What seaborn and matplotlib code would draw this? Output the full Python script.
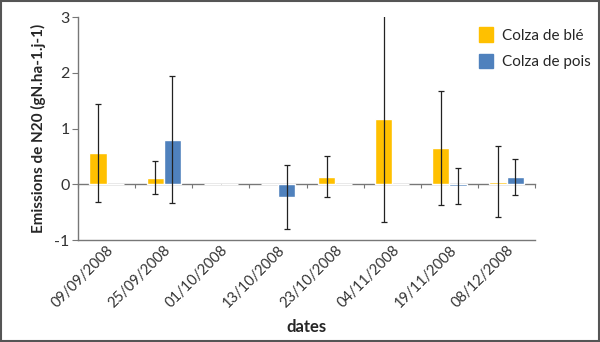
import matplotlib
matplotlib.use("Agg")
import matplotlib.pyplot as plt
import seaborn as sns
import pandas as pd
import numpy as np
from matplotlib.patches import Rectangle

dates = ["09/09/2008", "25/09/2008", "01/10/2008", "13/10/2008",
         "23/10/2008", "04/11/2008", "19/11/2008", "08/12/2008"]
series = ["Colza de blé", "Colza de pois"]
ble = [0.56, 0.12, 0.0, 0.0, 0.14, 1.18, 0.65, 0.05]
pois = [0.0, 0.80, 0.0, -0.23, 0.0, 0.0, -0.03, 0.13]
ble_err = [0.88, 0.30, 0.0, 0.0, 0.36, 1.86, 1.02, 0.64]
pois_err = [0.0, 1.14, 0.0, 0.57, 0.0, 0.0, 0.33, 0.32]
colors = ["#FFC000", "#4F81BD"]

sns.set_style("white")
plt.rcParams["font.family"] = ["Lato", "DejaVu Sans"]

df = pd.DataFrame({
    "date": dates * 2,
    "serie": [series[0]] * len(dates) + [series[1]] * len(dates),
    "val": ble + pois,
})

fig = plt.figure(figsize=(6, 3.42), dpi=100)
ax = fig.add_axes([0.13, 0.298, 0.762, 0.652])
sns.barplot(data=df, x="date", y="val", hue="serie", order=dates,
            hue_order=series, palette=colors, errorbar=None,
            width=0.6, saturation=1, ax=ax, legend=False)

for cont, vals, errs in zip(ax.containers, [ble, pois], [ble_err, pois_err]):
    xs = [p.get_x() + p.get_width() / 2 for p in cont.patches]
    mask = [e > 0 for e in errs]
    ax.errorbar(np.array(xs)[mask], np.array(vals)[mask], yerr=np.array(errs)[mask],
                fmt="none", ecolor="#222222", elinewidth=0.9, capsize=2,
                capthick=0.9, clip_on=True, zorder=3)

ax.set_ylim(-1, 3)
ax.set_xlim(-0.5, len(dates) - 0.5)
ax.set_yticks([-1, 0, 1, 2, 3])
ax.set_yticklabels(["-1", "0", "1", "2", "3"], fontsize=11.5, color="#333333")
ax.tick_params(axis="y", direction="out", length=4, width=0.8, color="#777777", left=True, pad=2)
ax.tick_params(axis="x", length=0, pad=2)
ax.set_xticks(range(len(dates)))
ax.set_xticklabels(dates, rotation=45, ha="right", rotation_mode="anchor",
                   fontsize=10.5, color="#333333")

for s in ["top", "right"]:
    ax.spines[s].set_visible(False)
for s in ["left", "bottom"]:
    ax.spines[s].set_color("#777777")
    ax.spines[s].set_linewidth(1.0)

# zero axis line with category boundary ticks
sec = ax.secondary_xaxis(0.25)
sec.set_xticks(np.arange(-0.5, len(dates), 1.0))
sec.set_xticklabels([])
sec.tick_params(direction="out", length=3, width=0.8, color="#777777")
sec.spines["bottom"].set_color("#777777")
sec.spines["bottom"].set_linewidth(1.0)

ax.set_xlabel("dates", fontsize=12, fontweight="bold", labelpad=6)
ax.set_ylabel("Emissions de N20 (gN.ha-1.j-1)", fontsize=11, fontweight="bold", labelpad=6)

handles = [Rectangle((0, 0), 1, 1, color=c) for c in colors]
fig.legend(handles, series, loc="upper left", bbox_to_anchor=(0.775, 0.96),
           frameon=False, fontsize=11, handlelength=0.9, handleheight=1.1,
           handletextpad=0.6, labelspacing=0.7)

fig.patches.append(Rectangle((0.002, 0.003), 0.996, 0.994, transform=fig.transFigure,
                             fill=False, edgecolor="#555555", linewidth=1.5))

fig.savefig("out.png", dpi=100)
